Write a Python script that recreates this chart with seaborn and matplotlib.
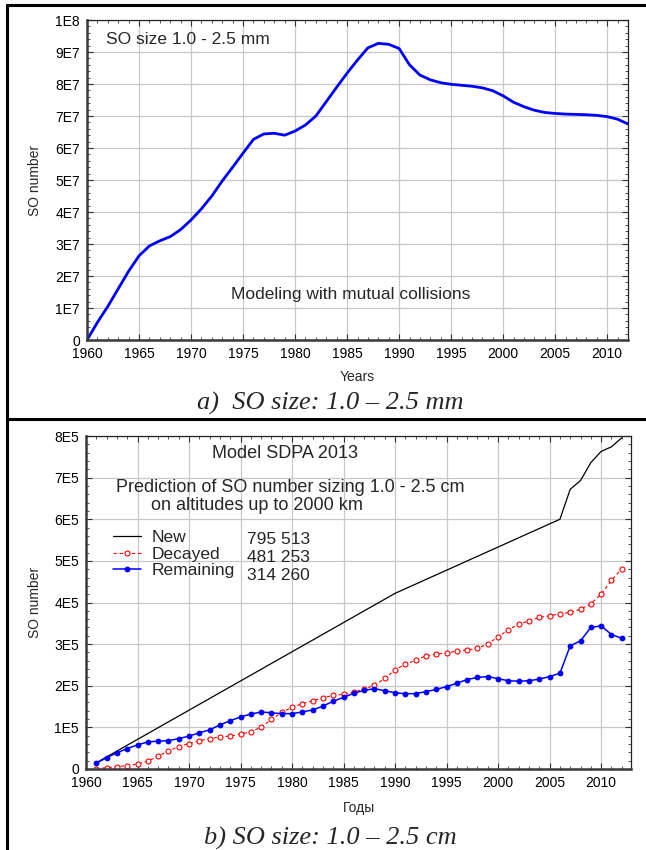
import numpy as np
import pandas as pd
import seaborn as sns
import matplotlib
matplotlib.use("Agg")
from matplotlib import pyplot as plt
from matplotlib.lines import Line2D
from matplotlib.ticker import MultipleLocator

# a) SO size 1.0 - 2.5 mm, modeling with mutual collisions
years_a = list(range(1960, 2013))
so_mm = [0, 0.55, 1.05, 1.6, 2.15, 2.63, 2.94, 3.1, 3.23, 3.45,
         3.75, 4.1, 4.5, 4.97, 5.4, 5.84, 6.27, 6.44, 6.46, 6.4,
         6.53, 6.72, 7.0, 7.45, 7.9, 8.34, 8.75, 9.13, 9.27, 9.24,
         9.11, 8.6, 8.28, 8.13, 8.04, 7.99, 7.96, 7.93, 7.88, 7.79,
         7.63, 7.43, 7.29, 7.18, 7.11, 7.08, 7.06, 7.05, 7.04, 7.02,
         6.98, 6.9, 6.75]  # units of 1E7

# b) SO size 1.0 - 2.5 cm, model SDPA 2013
years_b = list(range(1961, 2013))
remaining = [1.4, 2.7, 3.9, 4.9, 5.8, 6.5, 6.7, 6.8, 7.3, 7.9,
             8.7, 9.4, 10.6, 11.6, 12.5, 13.2, 13.7, 13.5, 13.3, 13.3,
             13.7, 14.2, 15.1, 16.3, 17.2, 18.2, 18.9, 19.3, 18.8, 18.3,
             18.1, 18.1, 18.6, 19.1, 19.8, 20.6, 21.5, 22.0, 22.2, 21.7,
             21.2, 21.1, 21.2, 21.6, 22.2, 23.0, 29.6, 30.8, 34.0, 34.4,
             32.3, 31.426]  # units of 1E4
decayed = [0.1, 0.3, 0.56, 0.8, 1.2, 1.9, 3.1, 4.3, 5.4, 6.1,
           6.8, 7.3, 7.7, 7.9, 8.4, 8.9, 10.1, 11.9, 13.6, 14.8,
           15.7, 16.4, 17.1, 17.7, 17.9, 18.5, 19.2, 20.1, 21.8, 23.8,
           25.2, 26.1, 27.2, 27.6, 27.9, 28.3, 28.6, 29.0, 30.0, 31.8,
           33.4, 34.8, 35.6, 36.4, 36.8, 37.3, 37.6, 38.4, 39.7, 42.0,
           45.3, 48.125]  # units of 1E4
years_new = [1961, 1990, 2006, 2007, 2008, 2009, 2010, 2011, 2012]
new = [0.15, 4.22, 6.0, 6.72, 6.93, 7.36, 7.63, 7.74, 7.955]  # units of 1E5

legend_names = ["New", "Decayed", "Remaining"]
legend_totals = ["795 513", "481 253", "314 260"]

yticks_a = ["0", "1E7", "2E7", "3E7", "4E7", "5E7", "6E7", "7E7", "8E7", "9E7", "1E8"]
yticks_b = ["0", "1E5", "2E5", "3E5", "4E5", "5E5", "6E5", "7E5", "8E5"]

sns.set_style("white")
plt.rcParams["font.family"] = ["Liberation Sans", "DejaVu Sans"]

W, H = 646, 850
fig = plt.figure(figsize=(W / 100, H / 100), dpi=100)


def px_axes(left, top, right, bottom):
    return fig.add_axes([left / W, 1 - bottom / H, (right - left) / W, (bottom - top) / H])


def style_axes(ax, ymajor, yminor):
    ax.xaxis.set_major_locator(MultipleLocator(5))
    ax.xaxis.set_minor_locator(MultipleLocator(1))
    ax.yaxis.set_major_locator(MultipleLocator(ymajor))
    ax.yaxis.set_minor_locator(MultipleLocator(yminor))
    ax.tick_params(which="both", direction="in", top=True, right=True,
                   bottom=True, left=True, colors="#333333", labelcolor="black")
    ax.tick_params(which="major", length=4, width=0.8, labelsize=10, pad=5)
    ax.tick_params(which="minor", length=2, width=0.6)
    ax.grid(True, which="major", color="#c8c8c8", lw=0.9)
    ax.set_axisbelow(True)
    for s in ["left", "bottom"]:
        ax.spines[s].set_linewidth(1.8)
        ax.spines[s].set_color("#3a3a3a")
    for s in ["top", "right"]:
        ax.spines[s].set_linewidth(0.9)
        ax.spines[s].set_color("#222222")


# ---- panel a
ax1 = px_axes(87, 20, 628, 340)
sns.lineplot(x=years_a, y=[v * 1e7 for v in so_mm], ax=ax1, color="#0000ff", lw=2.0)
ax1.set_xlim(1960, 2012)
ax1.set_ylim(0, 1e8)
style_axes(ax1, 1e7, 2e6)
ax1.set_yticks([i * 1e7 for i in range(len(yticks_a))])
ax1.set_yticklabels(yticks_a)
ax1.set_xlabel("Years", fontsize=10)
ax1.set_ylabel("SO number", fontsize=10)
ax1.xaxis.set_label_coords(0.5, -(377 - 340) / 320)
ax1.xaxis.label.set_va("center")
ax1.yaxis.set_label_coords(-(87 - 35) / 541, 0.5)
ax1.yaxis.label.set_va("center")
fig.text(106 / W, 1 - 40 / H, "SO size 1.0 - 2.5 mm", fontsize=12.5, va="center")
fig.text(351 / W, 1 - 294 / H, "Modeling with mutual collisions", fontsize=12.5,
         va="center", ha="center")

# ---- panel b
ax2 = px_axes(86, 436, 631, 769)
sns.lineplot(x=years_new, y=[v * 1e5 for v in new], ax=ax2, color="black", lw=0.9,
             label=legend_names[0])
sns.lineplot(x=years_b, y=[v * 1e4 for v in decayed], ax=ax2, color="#ff0000", lw=0.8,
             linestyle=(0, (3, 2.5)), marker="o", markersize=3.6,
             markerfacecolor="white", markeredgecolor="#ff0000", markeredgewidth=0.8,
             label=legend_names[1])
sns.lineplot(x=years_b, y=[v * 1e4 for v in remaining], ax=ax2, color="#0000ff", lw=1.1,
             marker="o", markersize=4.2, markeredgewidth=0, label=legend_names[2])
ax2.set_xlim(1960, 2012.9)
ax2.set_ylim(0, 8e5)
style_axes(ax2, 1e5, 2e4)
ax2.set_yticks([i * 1e5 for i in range(len(yticks_b))])
ax2.set_yticklabels(yticks_b)
ax2.set_xlabel("Годы", fontsize=10)
ax2.set_ylabel("SO number", fontsize=10)
ax2.xaxis.set_label_coords(0.5, -(808 - 769) / 333)
ax2.xaxis.label.set_va("center")
ax2.yaxis.set_label_coords(-(86 - 35) / 545, 0.5)
ax2.yaxis.label.set_va("center")

ax2.legend(loc="upper left", bbox_to_anchor=(113 / W, 1 - 530 / H),
           bbox_transform=fig.transFigure, frameon=False, fontsize=12.5,
           borderpad=0, borderaxespad=0, handlelength=1.6, handletextpad=0.6,
           labelspacing=0.08, numpoints=1)
for i, t in enumerate(legend_totals):
    fig.text(247 / W, 1 - (539 + i * 18.5) / H, t, fontsize=12.5, va="center")

fig.text(285 / W, 1 - 454 / H, "Model SDPA 2013", fontsize=13, va="center", ha="center")
fig.text(290 / W, 1 - 487 / H, "Prediction of SO number sizing 1.0 - 2.5 cm",
         fontsize=13, va="center", ha="center")
fig.text(257 / W, 1 - 506 / H, "on altitudes up to 2000 km", fontsize=13,
         va="center", ha="center")

# ---- captions and frame
cap = dict(fontsize=19, style="italic", family="Liberation Serif", ha="center", va="center")
fig.text(330 / W, 1 - 403 / H, "a)  SO size: 1.0 – 2.5 mm", **cap)
fig.text(330 / W, 1 - 838 / H, "b) SO size: 1.0 – 2.5 cm", **cap)

for xs, ys in [((7 / W, 1), (1 - 5 / H, 1 - 5 / H)),
               ((7 / W, 1), (1 - 419 / H, 1 - 419 / H)),
               ((7 / W, 7 / W), (1 - 5 / H, 0))]:
    fig.add_artist(Line2D(xs, ys, transform=fig.transFigure, color="black", lw=2.2))

fig.savefig("out.png", dpi=100)
